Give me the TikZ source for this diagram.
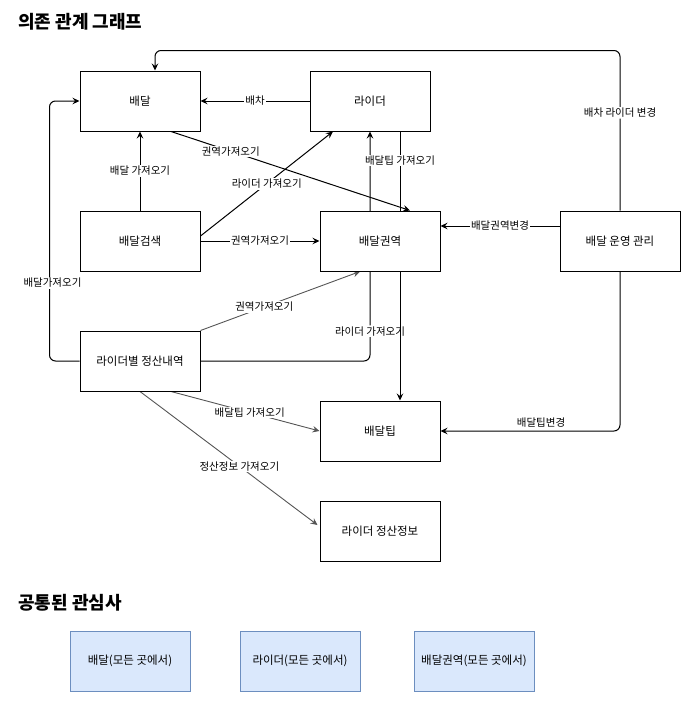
\documentclass[tikz,border=0pt]{standalone}
\usepackage{fontspec}
\setmainfont{Noto Sans CJK KR}
\usetikzlibrary{arrows.meta,calc}
\pgfdeclarelayer{background}
\pgfsetlayers{background,main}
\definecolor{bfill}{HTML}{DAE8FC}
\definecolor{bdraw}{HTML}{6C8EBF}
\definecolor{edgegray}{HTML}{555555}
\tikzset{
  box/.style={draw, line width=1pt, fill=white, minimum width=120pt, minimum height=60pt, inner sep=2pt, font=\fontsize{11.5}{13}\selectfont},
  bluebox/.style={box, fill=bfill, draw=bdraw},
  arr/.style={line width=1pt, -{Stealth[length=7pt,width=6.5pt,inset=2.5pt]}},
  garr/.style={arr, draw=edgegray, line width=0.9pt},
  lbl/.style={fill=white, inner sep=1pt, font=\fontsize{10.5}{12}\selectfont, text=black},
  ttl/.style={anchor=west, inner sep=0pt, font=\fontsize{18}{21}\bfseries\selectfont}
}
\begin{document}
\begin{tikzpicture}[x=1pt,y=-1pt]
\useasboundingbox (0,0) rectangle (691,702);
\node[ttl] (t1) at (18,22) {의존 관계 그래프};
\node[ttl] (t2) at (18,603) {공통된 관심사};

\node[box] (A) at (140,101) {배달};
\node[box] (R) at (370,101) {라이더};
\node[box] (S) at (140,241) {배달검색};
\node[box] (Z) at (380,241) {배달권역};
\node[box] (M) at (620,241) {배달 운영 관리};
\node[box] (P) at (140,361) {라이더별 정산내역};
\node[box] (T) at (380,431) {배달팁};
\node[box] (I) at (380,531) {라이더 정산정보};

\node[bluebox] (B1) at (130,661) {배달(모든 곳에서)};
\node[bluebox] (B2) at (300,661) {라이더(모든 곳에서)};
\node[bluebox] (B3) at (474,661) {배달권역(모든 곳에서)};

\begin{pgfonlayer}{background}
\draw[arr] (R.west) -- node[lbl]{배차} (A.east);
\draw[arr] (S.north) -- node[lbl]{배달 가져오기} (A.south);
\draw[arr] ([xshift=31pt]A.south) -- node[lbl,pos=0.25]{권역가져오기} ([xshift=30pt]Z.north);
\draw[arr] ([yshift=5pt]S.east) -- node[lbl]{라이더 가져오기} ([xshift=-37pt]R.south);
\draw[arr] (S.east) -- node[lbl]{권역가져오기} (Z.west);
\draw[arr, rounded corners=6pt] (P.east) -| node[lbl,pos=0.565]{라이더 가져오기} (R.south);
\draw[arr] ([xshift=30pt]R.south) -- node[lbl,pos=0.107]{배달팁 가져오기} ([xshift=20pt]T.north);
\draw[arr] ([yshift=15pt]M.west) -- node[lbl]{배달권역변경} ([yshift=15pt]Z.east);
\draw[arr, rounded corners=6pt] (M.north) -- node[lbl,pos=0.61]{배차 라이더 변경} ++(0,-160) -| ([xshift=15pt]A.north);
\draw[arr, rounded corners=6pt] (M.south) |- node[lbl,pos=0.72,anchor=south,yshift=2pt]{배달팁변경} (T.east);
\draw[arr, rounded corners=6pt] (P.west) -- ++(-30,0) |- node[lbl,pos=0.15,xshift=3pt]{배달가져오기} (A.west);
\draw[garr] (P.north east) -- node[lbl,pos=0.4]{권역가져오기} ([xshift=-20pt]Z.south);
\draw[garr] ([xshift=31pt]P.south) -- node[lbl,pos=0.53]{배달팁 가져오기} (T.west);
\draw[garr] (P.south) -- node[lbl,pos=0.56]{정산정보 가져오기} ([shift={(-2,-6)}]I.west);
\end{pgfonlayer}
\end{tikzpicture}
\end{document}
